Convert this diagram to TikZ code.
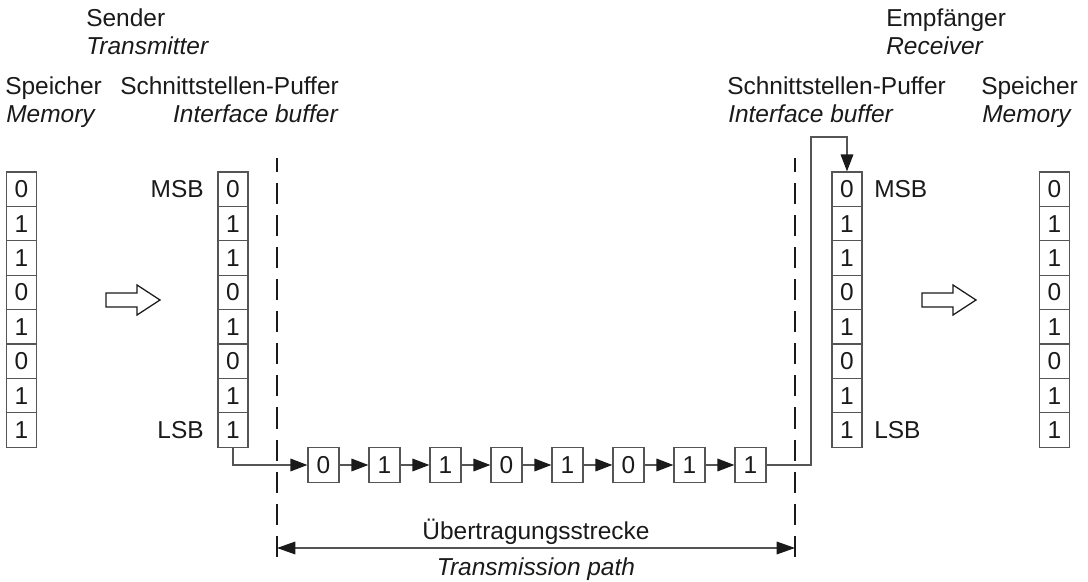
\documentclass[tikz,border=0pt]{standalone}
\usepackage{fontspec}
\setmainfont{Liberation Sans}
\usetikzlibrary{arrows.meta,positioning}
\definecolor{frame}{HTML}{555555}
\definecolor{ink}{HTML}{1A1A1A}

\begin{document}
\begin{tikzpicture}[x=0.025cm, y=-0.025cm,
  every node/.style={font=\fontsize{17.4}{20}\selectfont, text=ink},
  caption/.style={inner sep=0pt},
  cell/.style={draw=frame, line width=0.9pt, minimum width=0.75cm, minimum height=0.86cm, inner sep=0pt},
  bitbox/.style={draw=frame, line width=0.9pt, minimum width=0.775cm, minimum height=0.875cm, inner sep=0pt},
  link/.style={draw=frame, line width=0.8pt, -{Triangle[length=12pt,width=9pt,color=ink]}},
  boundary/.style={draw=ink, line width=0.9pt, dash pattern=on 15pt off 7.8pt, dash phase=5pt},
  hollow/.style={draw=ink, line width=0.9pt, line join=miter}]
  \useasboundingbox (0,0) rectangle (1088,582);

  % Headings
  \node[caption, anchor=base west] (sender) at (86,27) {Sender};
  \node[caption, anchor=base west] (transmitter) at (86,55) {\itshape Transmitter};
  \node[caption, anchor=base west] (empf) at (886,27) {Empfänger};
  \node[caption, anchor=base west] (receiver) at (886,55) {\itshape Receiver};

  % Column titles
  \node[caption, anchor=base west] (lmtitle) at (5,95) {Speicher};
  \node[caption, anchor=base west] (lmsub) at (6,123) {\itshape Memory};
  \node[caption, anchor=base west] (lbtitle) at (120,95) {Schnittstellen-Puffer};
  \node[caption, anchor=base east] (lbsub) at (338,123) {\itshape Interface buffer};
  \node[caption, anchor=base west] (rbtitle) at (727,95) {Schnittstellen-Puffer};
  \node[caption, anchor=base west] (rbsub) at (728,123) {\itshape Interface buffer};
  \node[caption, anchor=base west] (rmtitle) at (981,95) {Speicher};
  \node[caption, anchor=base west] (rmsub) at (982,123) {\itshape Memory};

  % Memory and buffer columns
  \foreach \b [count=\i] in {0,1,1,0,1,0,1,1} {
    \node[cell] (lm\i) at (21.5,{189.2+34.4*(\i-1)}) {\b};
    \node[cell] (lb\i) at (233,{189.2+34.4*(\i-1)}) {\b};
    \node[cell] (rb\i) at (847,{189.2+34.4*(\i-1)}) {\b};
    \node[cell] (rm\i) at (1054.5,{189.2+34.4*(\i-1)}) {\b};
  }
  \node[caption, anchor=east] (lmsb) at (204,189.2) {MSB};
  \node[caption, anchor=east] (llsb) at (204,430) {LSB};
  \node[caption, anchor=west] (rmsb) at (874,189.2) {MSB};
  \node[caption, anchor=west] (rlsb) at (874,430) {LSB};

  % Hollow arrows memory -> buffer
  \foreach \dx in {0,816}
    \draw[hollow, xshift=\dx*0.025cm] (106,293) -- (137,293) -- (137,285) -- (160,300)
      -- (137,315) -- (137,307) -- (106,307) -- cycle;

  % Interface boundaries
  \draw[boundary] (277,158) coordinate (ltop) -- (277,557) coordinate (lbot);
  \draw[boundary] (795,158) coordinate (rtop) -- (795,557) coordinate (rbot);

  % Serial bit stream
  \foreach \b [count=\i] in {0,1,1,0,1,0,1,1}
    \node[bitbox] (bit\i) at ({323.5+61*(\i-1)},465) {\b};
  \foreach \i in {1,...,7} {
    \pgfmathtruncatemacro\n{\i+1}
    \draw[link] (bit\i.east) -- (bit\n.west);
  }
  \draw[link] (lb8.south) |- (bit1.west);
  \coordinate (turn) at (811,137);
  \draw[link] (bit8.east) -| (turn) -| (rb1.north);

  % Transmission path
  \coordinate (pathl) at (277,548);
  \coordinate (pathr) at (795,548);
  \draw[draw=frame, line width=0.8pt, {Triangle[length=13pt,width=9pt,color=ink]}-{Triangle[length=13pt,width=9pt,color=ink]}] (pathl) -- (pathr);
  \node[caption, anchor=base] (pathde) at (536,540) {Übertragungsstrecke};
  \node[caption, anchor=base] (pathen) at (536,576) {\itshape Transmission path};
\end{tikzpicture}
\end{document}
